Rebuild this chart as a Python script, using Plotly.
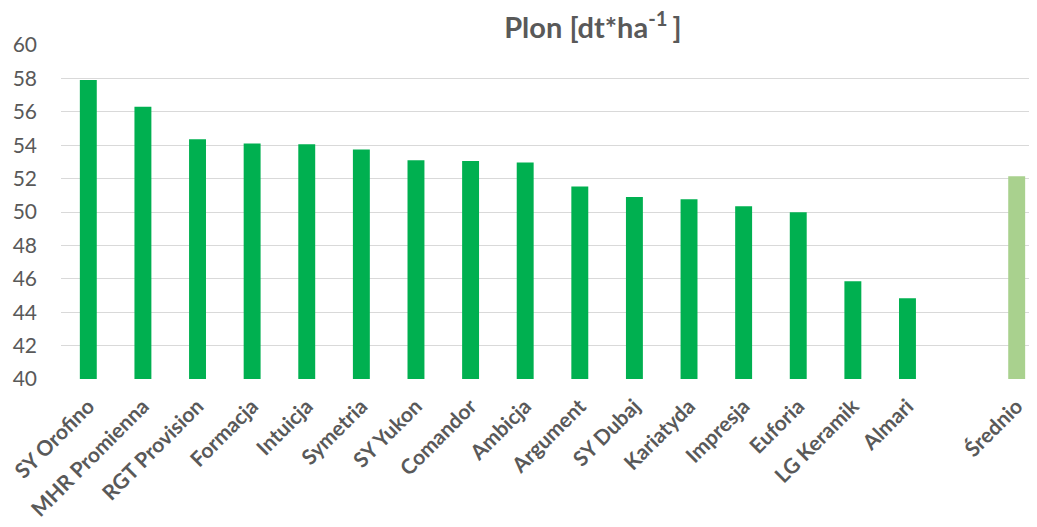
import plotly.graph_objects as go

categories = ["SY Orofino", "MHR Promienna", "RGT Provision", "Formacja", "Intuicja",
              "Symetria", "SY Yukon", "Comandor", "Ambicja", "Argument", "SY Dubaj",
              "Kariatyda", "Impresja", "Euforia", "LG Keramik", "Almari", " ", "Średnio"]
values = [57.9, 56.3, 54.35, 54.1, 54.05, 53.75, 53.1, 53.05, 52.97, 51.52, 50.9,
          50.76, 50.35, 49.98, 45.85, 44.83, None, 52.14]
colors = ["#00B050"] * 17 + ["#A9D18E"]

y_ticks = [40, 42, 44, 46, 48, 50, 52, 54, 56, 58, 60]

fig = go.Figure(go.Bar(
    x=categories, y=values, marker=dict(color=colors, line=dict(width=0)),
    width=0.31, hoverinfo="x+y",
))

fig.update_layout(
    width=1037, height=527,
    paper_bgcolor="white", plot_bgcolor="white",
    margin=dict(l=53, r=1, t=37, b=156, autoexpand=False),
    font=dict(family="Lato, Carlito, sans-serif", color="#595959"),
    title=dict(text="<b>Plon [dt*ha<sup>-1 </sup>]</b>", x=0.564, xanchor="center",
               y=0.962, yanchor="middle", font=dict(size=29, color="#595959")),
    showlegend=False,
)
fig.update_xaxes(
    type="category", categoryorder="array", categoryarray=categories,
    range=[-0.5, 17.5], tickangle=-45, showgrid=False, ticks="",
    tickfont=dict(size=21, color="#595959", family="Lato, sans-serif", weight="bold"),
    showline=False, zeroline=False, automargin=False, ticklabelstandoff=10,
)
fig.update_yaxes(
    range=[40, 60], tickvals=y_ticks, showgrid=True, gridcolor="#D9D9D9", gridwidth=1.3,
    tickfont=dict(size=21, color="#595959"), ticks="", zeroline=False, showline=False,
    ticklabelstandoff=23, automargin=False,
)

fig.write_html("out.html")
